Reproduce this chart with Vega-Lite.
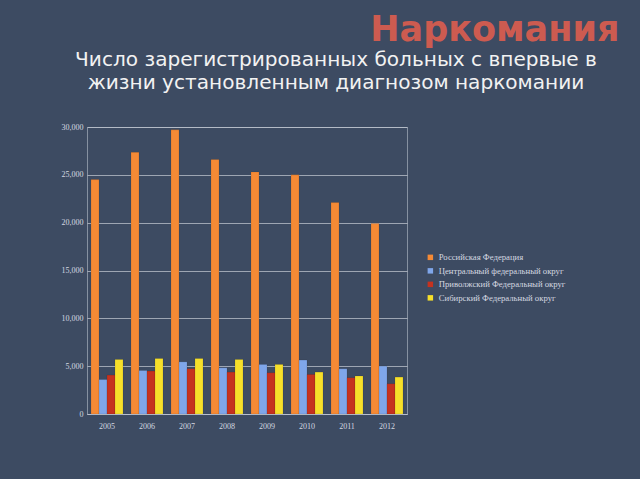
{
  "$schema": "https://vega.github.io/schema/vega-lite/v6.json",
  "background": "#3d4b62",
  "padding": {"left": 60, "top": 13, "right": 22, "bottom": 48},
  "title": {"text": "Наркомания", "anchor": "end", "color": "#cd5b50", "fontSize": 35, "font": "DejaVu Sans", "fontWeight": "bold", "offset": 1, "dx": 22},
  "config": {
    "view": {"stroke": "#b8bfcc", "strokeWidth": 1, "strokeOpacity": 0.6},
    "axis": {"labelFont": "Liberation Serif", "labelFontSize": 8, "labelColor": "#d4d8e0", "domainColor": "#b8bfcc", "tickColor": "#b8bfcc", "gridColor": "#c8cdd6", "gridOpacity": 0.7, "titleColor": "#d4d8e0"}
  },
  "vconcat": [
    {
      "width": 320,
      "height": 287,
      "title": {"text": ["Число зарегистрированных больных с впервые в", "жизни установленным диагнозом наркомании"], "anchor": "middle", "align": "center", "fontSize": 20.1, "color": "#f2f2f2", "font": "DejaVu Sans", "fontWeight": "normal", "lineHeight": 23, "dx": 89, "offset": 30},
      "data": {"values": [
        {"year": "2005", "series": "Российская Федерация", "value": 24500},
        {"year": "2006", "series": "Российская Федерация", "value": 27350},
        {"year": "2007", "series": "Российская Федерация", "value": 29700},
        {"year": "2008", "series": "Российская Федерация", "value": 26600},
        {"year": "2009", "series": "Российская Федерация", "value": 25300},
        {"year": "2010", "series": "Российская Федерация", "value": 25000},
        {"year": "2011", "series": "Российская Федерация", "value": 22100},
        {"year": "2012", "series": "Российская Федерация", "value": 19900},
        {"year": "2005", "series": "Центральный федеральный округ", "value": 3600},
        {"year": "2006", "series": "Центральный федеральный округ", "value": 4550},
        {"year": "2007", "series": "Центральный федеральный округ", "value": 5450},
        {"year": "2008", "series": "Центральный федеральный округ", "value": 4830},
        {"year": "2009", "series": "Центральный федеральный округ", "value": 5180},
        {"year": "2010", "series": "Центральный федеральный округ", "value": 5640},
        {"year": "2011", "series": "Центральный федеральный округ", "value": 4730},
        {"year": "2012", "series": "Центральный федеральный округ", "value": 5000},
        {"year": "2005", "series": "Приволжский Федеральный округ", "value": 4070},
        {"year": "2006", "series": "Приволжский Федеральный округ", "value": 4490},
        {"year": "2007", "series": "Приволжский Федеральный округ", "value": 4730},
        {"year": "2008", "series": "Приволжский Федеральный округ", "value": 4380},
        {"year": "2009", "series": "Приволжский Федеральный округ", "value": 4310},
        {"year": "2010", "series": "Приволжский Федеральный округ", "value": 4130},
        {"year": "2011", "series": "Приволжский Федеральный округ", "value": 3790},
        {"year": "2012", "series": "Приволжский Федеральный округ", "value": 3160},
        {"year": "2005", "series": "Сибирский Федеральный округ", "value": 5700},
        {"year": "2006", "series": "Сибирский Федеральный округ", "value": 5800},
        {"year": "2007", "series": "Сибирский Федеральный округ", "value": 5800},
        {"year": "2008", "series": "Сибирский Федеральный округ", "value": 5700},
        {"year": "2009", "series": "Сибирский Федеральный округ", "value": 5180},
        {"year": "2010", "series": "Сибирский Федеральный округ", "value": 4380},
        {"year": "2011", "series": "Сибирский Федеральный округ", "value": 3970},
        {"year": "2012", "series": "Сибирский Федеральный округ", "value": 3860}
      ]},
      "mark": {"type": "bar", "stroke": "#00000033", "strokeWidth": 0.5},
      "encoding": {
        "x": {"field": "year", "type": "nominal", "title": null, "scale": {"paddingInner": 0.2, "paddingOuter": 0.1}, "axis": {"labelAngle": 0, "ticks": false, "domain": true, "labelPadding": 8}},
        "xOffset": {"field": "series", "type": "nominal", "sort": ["Российская Федерация", "Центральный федеральный округ", "Приволжский Федеральный округ", "Сибирский Федеральный округ"]},
        "y": {"field": "value", "type": "quantitative", "title": null, "scale": {"domain": [0, 30000], "nice": false}, "axis": {"values": [0, 5000, 10000, 15000, 20000, 25000, 30000], "format": ",.0f", "ticks": false, "domain": false, "labelPadding": 4}},
        "color": {"field": "series", "type": "nominal", "sort": ["Российская Федерация", "Центральный федеральный округ", "Приволжский Федеральный округ", "Сибирский Федеральный округ"],
          "scale": {"domain": ["Российская Федерация", "Центральный федеральный округ", "Приволжский Федеральный округ", "Сибирский Федеральный округ"], "range": ["#f58a35", "#7fa6ea", "#c5321f", "#f6df2a"]},
          "legend": {"title": null, "orient": "none", "legendX": 339, "legendY": 126, "symbolType": "square", "symbolSize": 30, "symbolStrokeWidth": 0, "labelFont": "Liberation Serif", "labelFontSize": 8.7, "labelColor": "#d4d8e0", "rowPadding": 3.5, "labelLimit": 300}}
      }
    }
  ]
}
